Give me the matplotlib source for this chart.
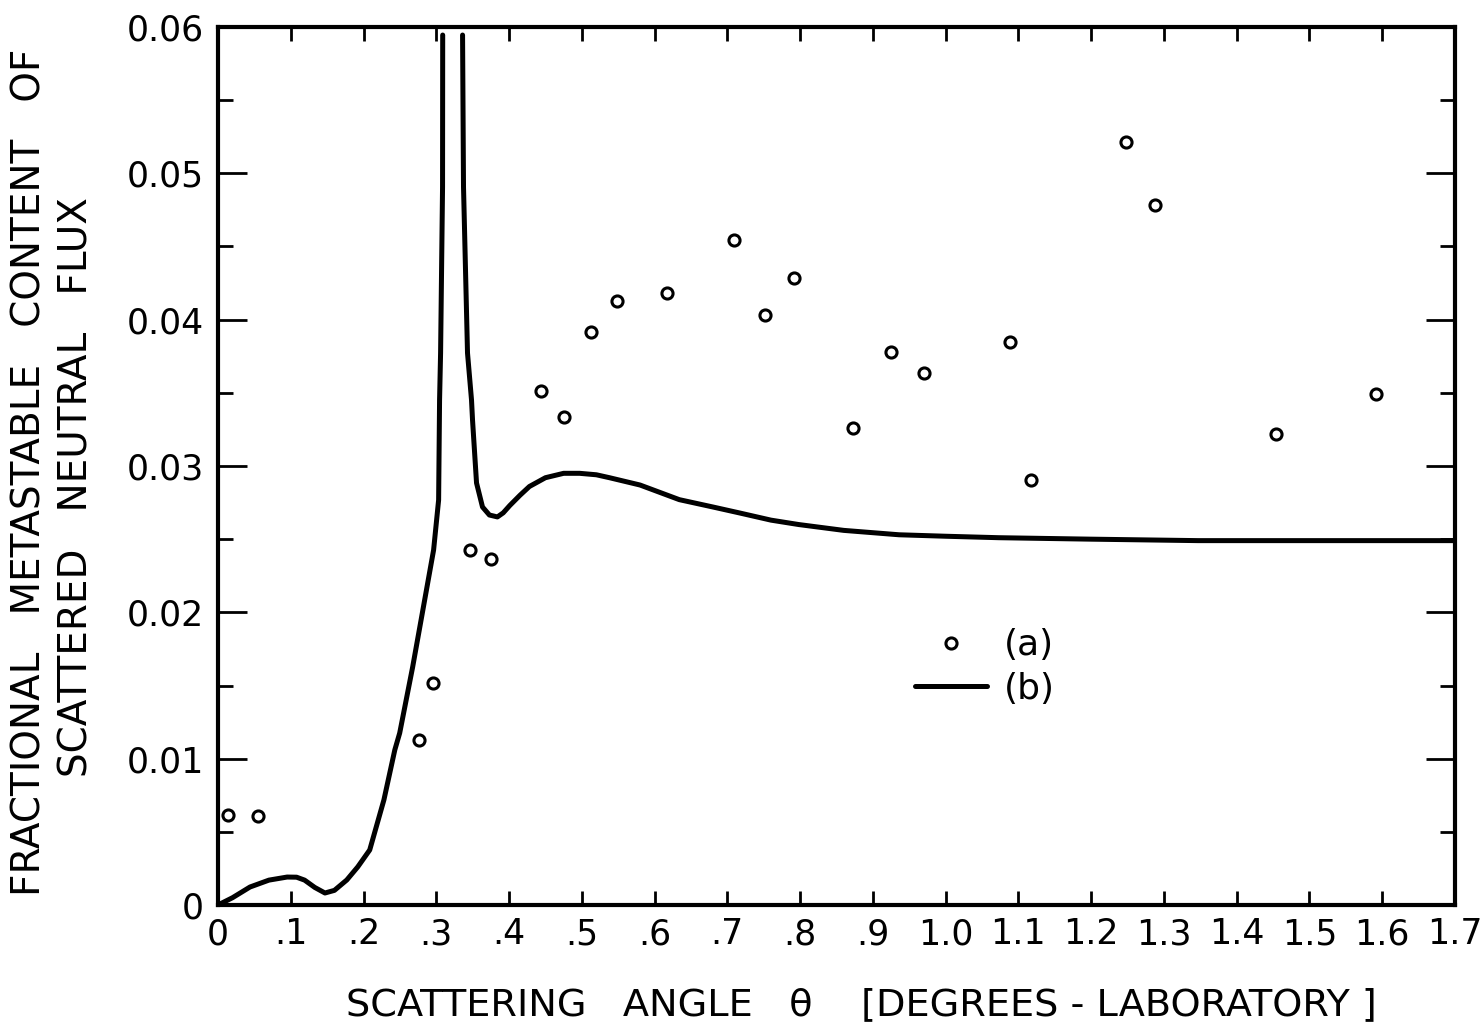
import numpy as np
import matplotlib
matplotlib.use("Agg")
import matplotlib.pyplot as plt
from matplotlib.ticker import MultipleLocator, FixedLocator

# measured points (a)
angle_a = [0.014, 0.055, 0.276, 0.296, 0.346, 0.375, 0.444, 0.475, 0.512, 0.549,
           0.617, 0.709, 0.752, 0.791, 0.872, 0.925, 0.970, 1.089, 1.117, 1.248,
           1.288, 1.454, 1.591]
frac_a = [0.00615, 0.00608, 0.01128, 0.01517, 0.02426, 0.02364, 0.03513, 0.03335,
          0.03916, 0.04128, 0.04182, 0.04544, 0.04032, 0.04285, 0.03260, 0.03779,
          0.03636, 0.03847, 0.02904, 0.05214, 0.04784, 0.03219, 0.03492]

# calculated curve (b); nan = the gap where the peak goes off the top
angle_b = [0.0, 0.02, 0.044, 0.07, 0.095, 0.108, 0.119, 0.133, 0.147, 0.160, 0.177,
           0.192, 0.2085, 0.228, 0.243, 0.2497, 0.2675, 0.284, 0.2963, 0.3032,
           0.3045, 0.3059, 0.3086, 0.3088,
           0.32,
           0.3361, 0.3374, 0.3429, 0.3484, 0.3498, 0.3553, 0.3635, 0.373, 0.384,
           0.392, 0.401, 0.415, 0.428, 0.45, 0.475, 0.497, 0.52, 0.538, 0.58,
           0.634, 0.68, 0.716, 0.76, 0.798, 0.86, 0.936, 1.0, 1.073, 1.2, 1.347, 1.7]
frac_b = [0.0, 0.0005, 0.00123, 0.0017, 0.00191, 0.0019, 0.0017, 0.0012, 0.00082,
          0.0010, 0.00171, 0.0026, 0.00376, 0.00718, 0.0106, 0.01175, 0.01626,
          0.02084, 0.02426, 0.02768, 0.03451, 0.03772, 0.04907, 0.05945,
          np.nan,
          0.05945, 0.04907, 0.03772, 0.03451, 0.03314, 0.02884, 0.0272, 0.02665,
          0.02652, 0.0268, 0.0273, 0.0280, 0.0286, 0.0292, 0.0295, 0.0295, 0.0294,
          0.0292, 0.0287, 0.0277, 0.0272, 0.0268, 0.0263, 0.0260, 0.0256, 0.0253,
          0.0252, 0.0251, 0.0250, 0.0249, 0.0249]

xtick_vals = [round(0.1 * i, 1) for i in range(18)]
xtick_text = ["0", ".1", ".2", ".3", ".4", ".5", ".6", ".7", ".8", ".9",
              "1.0", "1.1", "1.2", "1.3", "1.4", "1.5", "1.6", "1.7"]
ytick_vals = [0, 0.01, 0.02, 0.03, 0.04, 0.05, 0.06]
ytick_text = ["0", "0.01", "0.02", "0.03", "0.04", "0.05", "0.06"]

plt.rcParams['font.family'] = ['DejaVu Sans']

fig = plt.figure(figsize=(14.8, 10.27), dpi=100)
ax = fig.add_axes([218 / 1480, 1 - 905 / 1027, 1237 / 1480, 878 / 1027])

ax.plot(angle_b, frac_b, color='black', lw=3.6, solid_capstyle='round',
        solid_joinstyle='round', label='(b)')
ax.plot(angle_a, frac_a, ls='none', marker='o', ms=8, mfc='white', mec='black',
        mew=2.2, label='(a)')

ax.set_xlim(0, 1.7)
ax.set_ylim(0, 0.06)

ax.xaxis.set_major_locator(FixedLocator(xtick_vals))
ax.set_xticklabels(xtick_text)
ax.yaxis.set_major_locator(FixedLocator(ytick_vals))
ax.set_yticklabels(ytick_text)
ax.yaxis.set_minor_locator(MultipleLocator(0.005))

ax.tick_params(axis='both', which='both', direction='in', top=True, right=True,
               width=2, labelsize=25)
ax.tick_params(axis='x', which='major', length=10, pad=9)
ax.tick_params(axis='y', which='major', length=21, pad=10)
ax.tick_params(axis='y', which='minor', length=11)
for s in ax.spines.values():
    s.set_linewidth(3)

h, l = ax.get_legend_handles_labels()
ax.legend([h[1], h[0]], [l[1], l[0]], loc='center left',
          bbox_to_anchor=((915 - 218) / 1237, (905 - 667) / 878),
          frameon=False, fontsize=26, handlelength=2.0, handletextpad=0.45,
          labelspacing=0.25, borderpad=0, borderaxespad=0, numpoints=1)

fig.text(861 / 1480, 1 - 1005 / 1027,
         "SCATTERING   ANGLE   \u03b8    [DEGREES - LABORATORY ]",
         ha='center', va='center', fontsize=27.5)
fig.text(30 / 1480, 1 - 472 / 1027,
         "FRACTIONAL   METASTABLE   CONTENT   OF",
         ha='center', va='center', rotation=90, fontsize=28)
fig.text(77 / 1480, 1 - 487 / 1027,
         "SCATTERED   NEUTRAL   FLUX",
         ha='center', va='center', rotation=90, fontsize=28)

fig.savefig("out.png", dpi=100)
